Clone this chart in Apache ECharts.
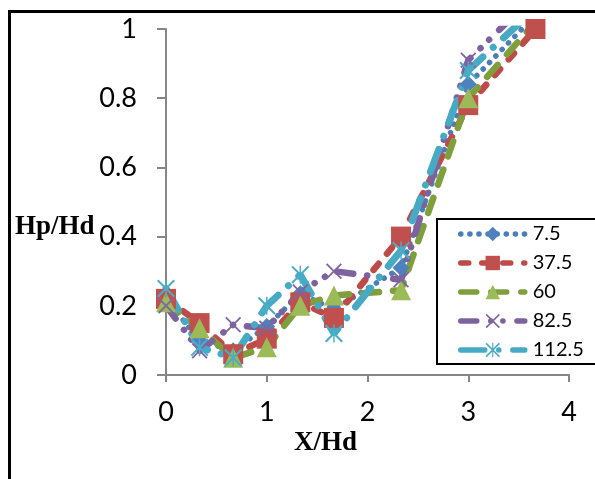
<!DOCTYPE html>
<html>
<head>
<meta charset="utf-8">
<script src="https://cdn.jsdelivr.net/npm/echarts@6/dist/echarts.min.js"></script>
<style>html,body{margin:0;padding:0;background:#fff;}#c{width:595px;height:479px;}</style>
</head>
<body>
<div id="c"></div>
<script>
// ---- data ----
const xValues = [0, 0.333, 0.667, 1, 1.333, 1.667, 2.333, 3, 3.667];
const seriesNames = ['7.5', '37.5', '60', '82.5', '112.5'];
const s7_5   = [0.22, 0.10, 0.07, 0.14, 0.235, 0.19, 0.31, 0.84, 1.04];
const s37_5  = [0.22, 0.15, 0.06, 0.105, 0.21, 0.165, 0.40, 0.78, 1.00];
const s60    = [0.21, 0.135, 0.05, 0.08, 0.20, 0.23, 0.245, 0.80, 1.02];
const s82_5  = [0.20, 0.07, 0.145, 0.135, 0.24, 0.30, 0.275, 0.91, 1.10];
const s112_5 = [0.25, 0.08, 0.05, 0.20, 0.29, 0.12, 0.36, 0.88, 1.06];
const yTicks = [0, 0.2, 0.4, 0.6, 0.8, 1];
const xTicks = [0, 1, 2, 3, 4];

const allValues = [s7_5, s37_5, s60, s82_5, s112_5];
const pair = arr => xValues.map((x, i) => [x, arr[i]]);

const xPath = 'path://M0,8 L8,0 L100,92 L92,100 Z M92,0 L100,8 L8,100 L0,92 Z';
const starPath = 'path://M0,8 L8,0 L100,92 L92,100 Z M92,0 L100,8 L8,100 L0,92 Z M46,0 L54,0 L54,100 L46,100 Z';

const styles = [
  {color:'#4F81BD', line:'#4A7EBB', symbol:'diamond', size:17, width:5.5, type:[0.1, 9], cap:'round'},
  {color:'#C0504D', line:'#BE4B48', symbol:'rect', size:20, width:6.5, type:[8, 13], cap:'round'},
  {color:'#9BBB59', line:'#7F9F3C', symbol:'triangle', size:20, width:6.5, type:[16, 14], cap:'round'},
  {color:'#8064A2', line:'#7E62A0', symbol:xPath, size:16, width:6.5, type:[16, 14, 0.1, 12, 0.1, 14], cap:'round'},
  {color:'#4BACC6', line:'#46AAC5', symbol:starPath, size:18, width:7, type:[24, 14, 0.1, 14], cap:'round'}
];

const series = seriesNames.map((name, k) => ({
  name: name,
  type: 'line',
  data: pair(allValues[k]),
  symbol: styles[k].symbol,
  symbolSize: styles[k].size,
  clip: true,
  animation: false,
  itemStyle: {color: styles[k].color},
  lineStyle: {color: styles[k].line, width: styles[k].width, type: styles[k].type, cap: styles[k].cap}
}));

const chart = echarts.init(document.getElementById('c'), null, {renderer: 'canvas'});
chart.setOption({
  animation: false,
  backgroundColor: '#ffffff',
  grid: {left: 166, top: 29, right: 26, bottom: 104, containLabel: false},
  xAxis: {
    type: 'value', min: xTicks[0], max: xTicks[xTicks.length - 1], interval: 1,
    axisLine: {show: true, lineStyle: {color: '#868686', width: 2}},
    axisTick: {show: true, length: 7, lineStyle: {color: '#868686', width: 2}},
    splitLine: {show: false},
    axisLabel: {color: '#000', fontFamily: 'Lato', fontSize: 27, margin: 24,
      formatter: v => String(v)}
  },
  yAxis: {
    type: 'value', min: yTicks[0], max: yTicks[yTicks.length - 1], interval: 0.2,
    axisLine: {show: true, lineStyle: {color: '#868686', width: 2}},
    axisTick: {show: true, length: 9, lineStyle: {color: '#868686', width: 2}},
    splitLine: {show: false},
    axisLabel: {color: '#000', fontFamily: 'Lato', fontSize: 27, margin: 29,
      formatter: v => String(+v.toFixed(1))}
  },
  legend: {
    orient: 'vertical', left: 437, top: 219,
    itemWidth: 64, itemHeight: 18, itemGap: 9,
    padding: [5, 20, 4, 21],
    borderColor: '#000', borderWidth: 2, backgroundColor: '#fff',
    lineStyle: {width: 5.5},
    textStyle: {color: '#000', fontFamily: 'Lato', fontSize: 20, padding: [0, 0, 0, 3]},
    data: seriesNames
  },
  graphic: [
    {type: 'rect', left: 7, top: 9, shape: {width: 620, height: 520}, style: {fill: 'none', stroke: '#000', lineWidth: 3}, z: 100},
    {type: 'text', left: 15, top: 214, style: {text: 'Hp/Hd', font: 'bold 27px "Liberation Serif"', fill: '#000'}},
    {type: 'text', left: 294, top: 430, style: {text: 'X/Hd', font: 'bold 27px "Liberation Serif"', fill: '#000'}}
  ],
  series: series
});
</script>
</body>
</html>
